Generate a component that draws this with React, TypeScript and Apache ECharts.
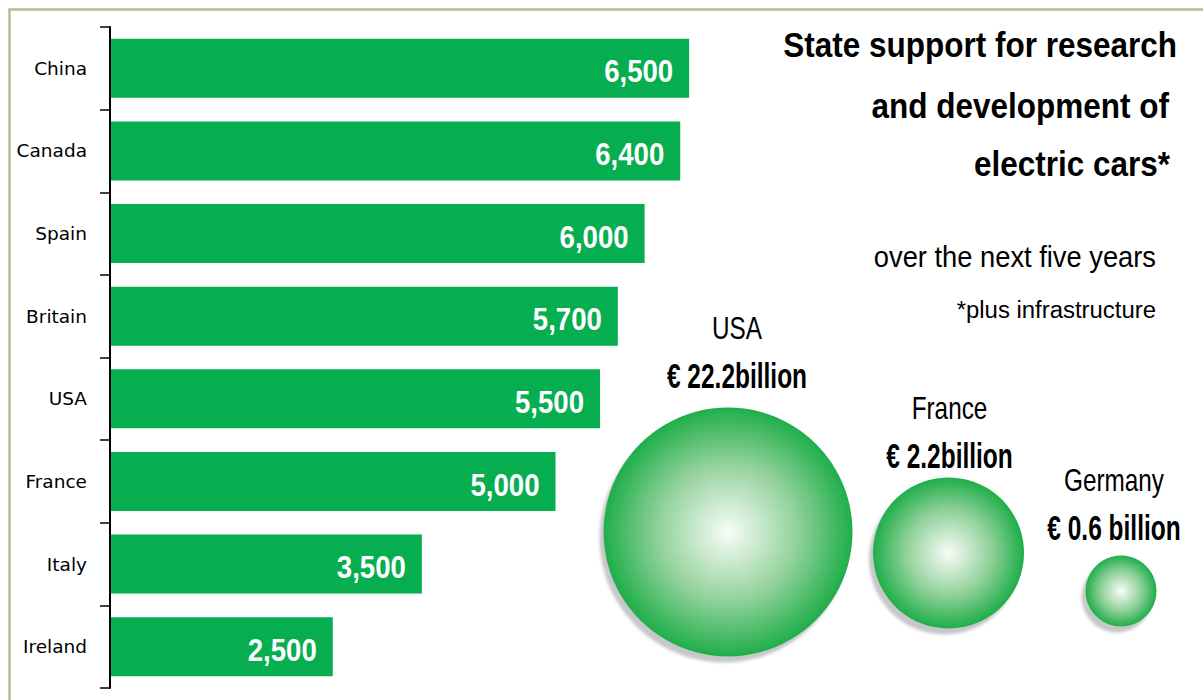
import React, { useEffect, useRef } from "react";
import * as echarts from "echarts";

// ---- data ----
const countries = ["China", "Canada", "Spain", "Britain", "USA", "France", "Italy", "Ireland"];
const support = [6500, 6400, 6000, 5700, 5500, 5000, 3500, 2500];

const bubbleCountries = ["USA", "France", "Germany"];
const bubbleValues = [22.2, 2.2, 0.6];
const bubbleLabels = ["€ 22.2billion", "€ 2.2billion", "€ 0.6 billion"];

const titleLines = ["State support for research", "and development of", "electric cars*"];
const subtitle = "over the next five years";
const footnote = "*plus infrastructure";

// ---- styling (not data) ----
const SANS = '"Liberation Sans", Arial, sans-serif';
const BAR_GREEN = "#06ae4f";
const BORDER = "#bfb88e";
const bubbleDiameters = [249, 151, 71];
const bubbleOffsets = [[0, 0], [24, 21], [0, 59]];
const bubbleLabelOffsets = [[9, -4], [1, 6], [-7, 0]];

export default function App() {
  const ref = useRef<HTMLDivElement>(null);

  useEffect(() => {
    if (!ref.current) return;
    const chart = echarts.init(ref.current, null, { renderer: "svg" });

    const bubbleGradient = {
      type: "radial",
      x: 0.5,
      y: 0.5,
      r: 0.5,
      colorStops: [
        { offset: 0, color: "#f7fcf7" },
        { offset: 0.55, color: "#93d29c" },
        { offset: 1, color: "#1fae4a" },
      ],
    };

    const option: any = {
      animation: false,
      backgroundColor: "#ffffff",
      grid: [
        { left: 110, top: 27, width: 891, height: 661 },
        { left: 728, top: 432, width: 393, height: 200 },
      ],
      xAxis: [
        { type: "value", gridIndex: 0, min: 0, max: 10000, show: false },
        { type: "category", gridIndex: 1, data: bubbleCountries, boundaryGap: false, show: false },
      ],
      yAxis: [
        {
          type: "category",
          gridIndex: 0,
          data: countries,
          inverse: true,
          offset: 1,
          z: 3,
          axisLine: { show: true, lineStyle: { color: "#000", width: 2 } },
          axisTick: { show: true, length: 10, lineStyle: { color: "#000", width: 1.5 } },
          axisLabel: { color: "#000", fontFamily: "DejaVu Sans", fontSize: 18.5, margin: 22 },
          splitLine: { show: false },
        },
        { type: "value", gridIndex: 1, min: -1, max: 1, show: false },
      ],
      series: [
        {
          type: "bar",
          xAxisIndex: 0,
          yAxisIndex: 0,
          data: support,
          barWidth: 59,
          silent: true,
          itemStyle: { color: BAR_GREEN },
        },
        {
          type: "custom",
          xAxisIndex: 0,
          yAxisIndex: 0,
          silent: true,
          z: 5,
          data: support.map((v, i) => [v, i]),
          renderItem: (_params: any, api: any) => {
            const v = api.value(0);
            const pt = api.coord([v, api.value(1)]);
            return {
              type: "text",
              x: pt[0] - 16,
              y: pt[1] + 3,
              scaleX: 0.89,
              style: {
                text: Number(v).toLocaleString("en-US"),
                fontFamily: SANS,
                fontWeight: "bold",
                fontSize: 31,
                fill: "#ffffff",
                align: "right",
                verticalAlign: "middle",
              },
            };
          },
        },
        {
          type: "scatter",
          xAxisIndex: 1,
          yAxisIndex: 1,
          silent: true,
          data: bubbleCountries.map((c, i) => ({
            name: c,
            value: [c, 0, bubbleValues[i]],
            symbolSize: bubbleDiameters[i],
            symbolOffset: bubbleOffsets[i],
          })),
          itemStyle: {
            color: bubbleGradient,
            opacity: 1,
            shadowColor: "rgba(160,162,166,0.6)",
            shadowBlur: 3,
            shadowOffsetX: -4,
            shadowOffsetY: 6,
          },
          label: { show: false },
        },
        {
          type: "custom",
          xAxisIndex: 1,
          yAxisIndex: 1,
          silent: true,
          z: 5,
          data: bubbleCountries.map((c, i) => [c, 0, bubbleValues[i]]),
          renderItem: (params: any, api: any) => {
            const i = params.dataIndex;
            const pt = api.coord([api.value(0), api.value(1)]);
            const cx = pt[0] + bubbleOffsets[i][0] + bubbleLabelOffsets[i][0];
            const top = pt[1] + bubbleOffsets[i][1] - bubbleDiameters[i] / 2 + bubbleLabelOffsets[i][1];
            return {
              type: "group",
              children: [
                {
                  type: "text",
                  x: cx,
                  y: top - 76,
                  scaleX: 0.76,
                  style: {
                    text: bubbleCountries[i],
                    fontFamily: SANS,
                    fontSize: 32,
                    fill: "#000",
                    align: "center",
                    verticalAlign: "middle",
                  },
                },
                {
                  type: "text",
                  x: cx,
                  y: top - 28,
                  scaleX: 0.7,
                  style: {
                    text: bubbleLabels[i],
                    fontFamily: SANS,
                    fontWeight: "bold",
                    fontSize: 35,
                    fill: "#000",
                    align: "center",
                    verticalAlign: "middle",
                  },
                },
              ],
            };
          },
        },
      ],
      graphic: [
        {
          type: "polyline",
          silent: true,
          shape: { points: [[9.5, 700], [9.5, 9.5], [1203, 9.5]] },
          style: { stroke: BORDER, lineWidth: 2.5, fill: null },
        },
        {
          type: "text",
          x: 1177,
          y: 44.5,
          scaleX: 0.9,
          silent: true,
          style: { text: titleLines[0], fontFamily: SANS, fontWeight: "bold", fontSize: 35, fill: "#000", align: "right", verticalAlign: "middle" },
        },
        {
          type: "text",
          x: 1169,
          y: 106,
          scaleX: 0.9,
          silent: true,
          style: { text: titleLines[1], fontFamily: SANS, fontWeight: "bold", fontSize: 35, fill: "#000", align: "right", verticalAlign: "middle" },
        },
        {
          type: "text",
          x: 1170,
          y: 164,
          scaleX: 0.9,
          silent: true,
          style: { text: titleLines[2], fontFamily: SANS, fontWeight: "bold", fontSize: 35, fill: "#000", align: "right", verticalAlign: "middle" },
        },
        {
          type: "text",
          x: 1156,
          y: 257,
          scaleX: 0.91,
          silent: true,
          style: { text: subtitle, fontFamily: SANS, fontSize: 30, fill: "#000", align: "right", verticalAlign: "middle" },
        },
        {
          type: "text",
          x: 1156,
          y: 310,
          scaleX: 1.04,
          silent: true,
          style: { text: footnote, fontFamily: SANS, fontSize: 23, fill: "#000", align: "right", verticalAlign: "middle" },
        },
      ],
    };

    chart.setOption(option);
    return () => chart.dispose();
  }, []);

  return (
    <div
      ref={ref}
      style={{ position: "fixed", left: 0, top: 0, width: 1203, height: 700, background: "#fff" }}
    />
  );
}
